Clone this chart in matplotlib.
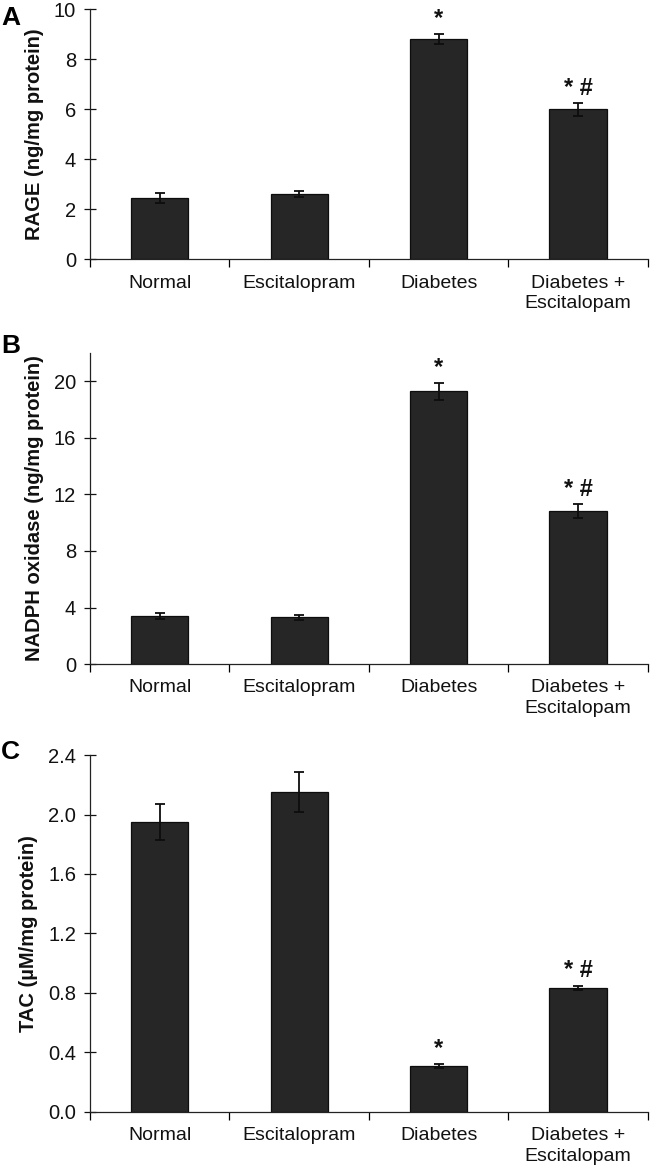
import matplotlib
matplotlib.use("Agg")
import matplotlib.pyplot as plt
import numpy as np

plt.rcParams["font.family"] = ["Liberation Sans", "DejaVu Sans"]

groups = ["Normal", "Escitalopram", "Diabetes", "Diabetes +\nEscitalopam"]

rage = [2.45, 2.62, 8.82, 6.0]
rage_err = [0.2, 0.12, 0.2, 0.25]

nadph = [3.4, 3.3, 19.3, 10.8]
nadph_err = [0.2, 0.15, 0.6, 0.5]

tac = [1.95, 2.15, 0.31, 0.835]
tac_err = [0.12, 0.135, 0.015, 0.015]

marks = ["", "", "*", "* #"]

panels = [
    ("A", rage, rage_err, "RAGE (ng/mg protein)", 10, [0, 2, 4, 6, 8, 10], "{:.0f}"),
    ("B", nadph, nadph_err, "NADPH oxidase (ng/mg protein)", 22, [0, 4, 8, 12, 16, 20], "{:.0f}"),
    ("C", tac, tac_err, "TAC (\u00b5M/mg protein)", 2.4, [0, 0.4, 0.8, 1.2, 1.6, 2.0, 2.4], "{:.1f}"),
]
# axes rectangles in figure fractions (left, bottom, width, height)
rects = [
    (0.137, 0.7788, 0.849, 0.2133),
    (0.137, 0.4334, 0.849, 0.2654),
    (0.137, 0.0512, 0.849, 0.3046),
]
letter_y = [0.985, 0.705, 0.358]

fig = plt.figure(figsize=(6.57, 11.72), dpi=100)
x = np.arange(len(groups))

for (letter, vals, errs, ylabel, ymax, yticks, fmt), rect, ly in zip(panels, rects, letter_y):
    ax = fig.add_axes(rect)
    ax.bar(x, vals, width=0.41, color="#262626", edgecolor="#0d0d0d", linewidth=0.9, zorder=2)
    ax.errorbar(x, vals, yerr=errs, fmt="none", ecolor="#0d0d0d", elinewidth=1.3,
                capsize=3.5, capthick=1.3, zorder=3)
    for xi, v, e, m in zip(x, vals, errs, marks):
        if m:
            ax.annotate(m, (xi, v + e), xytext=(0, 6), textcoords="offset points",
                        ha="center", va="baseline", fontsize=17, fontweight="bold",
                        color="#111111")
    ax.set_xlim(-0.5, 3.5)
    ax.set_ylim(0, ymax)
    ax.set_yticks(yticks)
    ax.set_yticklabels([fmt.format(t) for t in yticks], fontsize=14.5)
    ax.tick_params(axis="y", direction="inout", length=8, width=0.9, pad=6,
                   colors="#111111")
    ax.set_xticks(x)
    ax.set_xticklabels(groups, fontsize=14, linespacing=1.25)
    ax.tick_params(axis="x", length=0, pad=11, colors="#111111")
    ax.set_xticks(np.arange(-0.5, 4.0, 1.0), minor=True)
    ax.tick_params(axis="x", which="minor", direction="out", length=6, width=0.9)
    ax.set_ylabel(ylabel, fontsize=14.5, fontweight="bold", labelpad=7, color="#111111")
    for s in ("top", "right"):
        ax.spines[s].set_visible(False)
    for s in ("left", "bottom"):
        ax.spines[s].set_linewidth(0.9)
        ax.spines[s].set_color("#222222")
    fig.text(0.002, ly, letter, fontsize=19, fontweight="bold", ha="left", va="center")

fig.savefig("out.png", dpi=100)
